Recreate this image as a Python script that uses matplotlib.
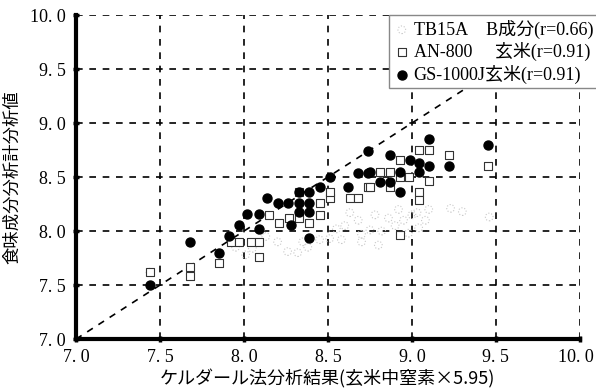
import matplotlib.pyplot as plt
import matplotlib.transforms as mtransforms
import numpy as np

plt.rcParams['font.family'] = ['Liberation Serif', 'Noto Sans CJK JP']

# TB15A B成分 (faint dotted circles)
tb_x = [7.44, 7.68, 7.95, 8.01, 8.05, 8.13, 8.20, 8.26, 8.32, 8.38, 8.45, 8.51,
        8.55, 8.60, 8.63, 8.68, 8.70, 8.75, 8.80, 8.82, 8.86, 8.90, 8.95, 8.98,
        9.00, 9.03, 9.04, 9.08, 9.10, 9.23, 9.30, 9.46, 8.35, 8.58, 8.78, 8.92,
        8.10, 8.70]
tb_y = [7.62, 7.60, 7.85, 7.78, 7.84, 7.95, 7.90, 7.81, 7.80, 7.85, 7.92, 7.93,
        8.02, 8.05, 8.17, 8.10, 7.97, 8.01, 7.87, 8.00, 8.12, 8.05, 8.10, 7.98,
        8.15, 8.17, 8.03, 8.10, 8.20, 8.21, 8.18, 8.13, 7.90, 7.92, 8.15, 8.20,
        8.00, 7.90]

# AN-800 玄米 (open squares)
an_x = [7.44, 7.68, 7.68, 7.85, 7.92, 7.97, 8.04, 8.09, 8.09, 8.15, 8.21, 8.27,
        8.33, 8.39, 8.45, 8.51, 8.63, 8.68, 8.74, 8.45, 8.51, 9.04, 9.10, 9.22,
        9.45, 8.87, 8.75, 8.87, 8.93, 9.10, 9.04, 8.93, 9.04, 8.33, 8.81, 8.93,
        8.98]
an_y = [7.62, 7.67, 7.58, 7.70, 7.90, 7.90, 7.90, 7.90, 7.76, 8.15, 8.07, 8.12,
        8.12, 8.07, 8.15, 8.31, 8.31, 8.31, 8.41, 8.26, 8.36, 8.75, 8.75, 8.70,
        8.60, 8.55, 8.41, 8.41, 8.50, 8.46, 8.36, 7.96, 8.29, 8.36, 8.55, 8.66,
        8.50]

# GS-1000J 玄米 (filled circles)
gs_x = [7.44, 7.68, 7.85, 7.91, 7.97, 8.02, 8.09, 8.09, 8.14, 8.20, 8.26, 8.33,
        8.39, 8.45, 8.51, 8.68, 8.74, 8.74, 8.33, 8.39, 8.33, 8.39, 8.28, 8.39,
        8.62, 9.10, 9.45, 8.87, 8.99, 9.04, 9.10, 9.22, 8.75, 8.81, 8.87, 8.93,
        8.93, 9.04]
gs_y = [7.50, 7.90, 7.80, 7.95, 8.06, 8.16, 8.16, 8.02, 8.31, 8.26, 8.26, 8.36,
        8.36, 8.41, 8.50, 8.54, 8.54, 8.74, 8.26, 8.26, 8.18, 8.18, 8.06, 7.94,
        8.41, 8.85, 8.80, 8.70, 8.66, 8.63, 8.60, 8.60, 8.55, 8.45, 8.45, 8.55,
        8.36, 8.55]

ticks = [7.0, 7.5, 8.0, 8.5, 9.0, 9.5, 10.0]
tick_labels = ["7. 0", "7. 5", "8. 0", "8. 5", "9. 0", "9. 5", "10. 0"]

fig = plt.figure(figsize=(5.96, 3.92), dpi=100)
ax = fig.add_axes([0.1275, 0.135, 0.8455, 0.8267])

# 1:1 line
ax.plot([7, 10], [7, 10], color="black", linestyle=(0, (4, 4)), linewidth=1.2, zorder=1)

ax.scatter(tb_x, tb_y, s=30, facecolors="none", edgecolors="#c8c8c8",
           linewidths=0.8, linestyle=":", label="TB15A\u3000B成分(r=0.66)", zorder=2)
ax.scatter(an_x, an_y, s=34, marker="s", facecolors="white", edgecolors="#333333",
           linewidths=0.8, label="AN-800\u3000 玄米(r=0.91)", zorder=3)
ax.scatter(gs_x, gs_y, s=42, color="black", label="GS-1000J玄米(r=0.91)", zorder=4)

ax.set_xlim(7, 10)
ax.set_ylim(7, 10)
ax.set_xticks(ticks)
ax.set_yticks(ticks)
ax.set_xticklabels(tick_labels)
ax.set_yticklabels(tick_labels)
ax.tick_params(direction="inout", length=5, width=2.5, labelsize=13, pad=5)

# keep the last x tick label inside the figure
last = ax.get_xticklabels()[-1]
last.set_horizontalalignment("right")
last.set_transform(last.get_transform() +
                   mtransforms.ScaledTranslation(14 / 100, 0, fig.dpi_scale_trans))

ax.grid(True, color="black", linestyle=(0, (4, 4)), linewidth=1.2)
ax.set_axisbelow(True)
for side in ["top", "right"]:
    ax.spines[side].set_visible(False)
for side in ["left", "bottom"]:
    ax.spines[side].set_linewidth(3)

ax.set_xlabel("ケルダール法分析結果(玄米中窒素×5.95)", fontsize=13,
              family=["Noto Sans CJK JP"], labelpad=2)
ax.set_ylabel("食味成分分析計分析値", fontsize=12.5, family=["Noto Sans CJK JP"], labelpad=6)

leg = ax.legend(loc="upper right", bbox_to_anchor=(1.035, 1.0), fontsize=13,
                frameon=True, fancybox=False, edgecolor="#888888", framealpha=1,
                handletextpad=0.2, borderpad=0.25, labelspacing=0.2, handlelength=0.9,
                borderaxespad=0)
leg.get_frame().set_facecolor("white")
leg.set_zorder(10)

fig.savefig("out.png", dpi=100)
